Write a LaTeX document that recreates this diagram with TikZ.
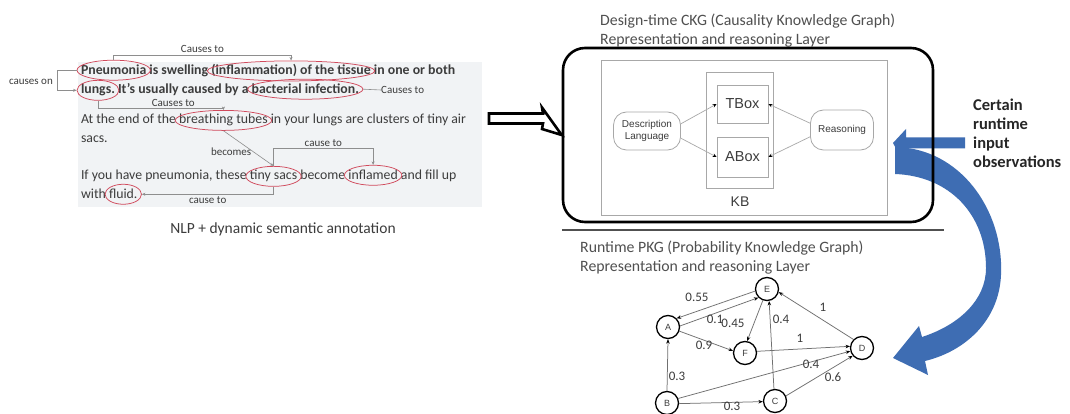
\documentclass[tikz,border=0pt]{standalone}
\usepackage{fontspec}
\setmainfont{Carlito}
\newfontfamily\arialf{Liberation Sans}
\usetikzlibrary{shapes.geometric,arrows.meta,calc}
\definecolor{txtc}{HTML}{3C3C3C}
\definecolor{ttlc}{HTML}{505050}
\definecolor{panelc}{HTML}{F1F3F5}
\definecolor{annred}{HTML}{D04A5C}
\definecolor{connc}{HTML}{8E8E8E}
\definecolor{bluec}{HTML}{3E6DB3}
\definecolor{kbgray}{HTML}{A8A8A8}
\definecolor{edgec}{HTML}{707070}
\newcommand\ptext{\fontsize{13.8}{16}\selectfont}
\newcommand\tsp{\ \mbox{}}
\newcommand\annotword[2]{\path let \p1=($(#1.east)-(#1.west)$) in node[ann,minimum width=\x1+8pt] (#2) at (#1.center) {};}
\begin{document}
\begin{tikzpicture}[x=1pt,y=-1pt,
  w/.style={inner sep=0pt,outer sep=0pt,anchor=base west,text=txtc,font=\ptext},
  wb/.style={w,font=\ptext\bfseries},
  ann/.style={ellipse,draw=annred,line width=0.75pt,inner sep=0pt,minimum height=20pt},
  clab/.style={inner sep=0pt,text=txtc,font=\fontsize{11}{12}\selectfont},
  cn/.style={draw=connc,line width=0.6pt},
  tip/.style={-{Stealth[length=3.5pt,width=3pt]}},
  ttl/.style={anchor=west,inner sep=0pt,text=ttlc,font=\fontsize{15.8}{18}\selectfont},
  kbbox/.style={draw=kbgray,line width=0.8pt,inner sep=0pt,text=txtc,font=\arialf\fontsize{14.5}{16}\selectfont},
  bubble/.style={draw=kbgray,line width=0.8pt,rounded corners=13pt,inner sep=0pt,align=center,text=txtc,font=\arialf\fontsize{10}{12}\selectfont},
  kbarr/.style={draw=kbgray,line width=0.7pt,-{Stealth[length=4pt,width=3.5pt,black]}},
  gnode/.style={circle,draw=black,line width=1.3pt,minimum size=23pt,inner sep=0pt,text=txtc,font=\arialf\fontsize{9}{10}\selectfont},
  gedge/.style={draw=edgec,line width=0.75pt,-{Stealth[length=4.5pt,width=3.5pt,black]}},
  glab/.style={inner sep=0pt,text=txtc,font=\fontsize{13}{14}\selectfont},
]
\useasboundingbox (0,0) rectangle (1070,414);
\fill[white] (0,0) rectangle (1070,414);
\fill[panelc] (78,62) rectangle (482,207);

% ---------- annotated text ----------
\node[wb] (l1a) at (81,75) {Pneumonia};
\node[wb] (l1b) at (l1a.base east) {\ is swelling\tsp};
\node[wb] (l1c) at (l1b.base east) {(inflammation) of the tissue};
\node[wb] (l1d) at (l1c.base east) {\ in one or both};
\node[wb] (l2a) at (81,94) {lungs.};
\node[wb] (l2b) at (l2a.base east) {\ It's usually caused by a\tsp};
\node[wb] (l2c) at (l2b.base east) {bacterial infection.};
\node[w] (l3a) at (81,124) {At the end of the\tsp};
\node[w] (l3b) at (l3a.base east) {breathing tubes};
\node[w] (l3c) at (l3b.base east) {\ in your lungs are clusters of tiny air};
\node[w] (l4a) at (81,143) {sacs.};
\node[w] (l5a) at (81,180) {If you have pneumonia, these\tsp};
\node[w] (l5b) at (l5a.base east) {tiny sacs};
\node[w] (l5c) at (l5b.base east) {\ become\tsp};
\node[w] (l5d) at (l5c.base east) {inflamed};
\node[w] (l5e) at (l5d.base east) {\ and fill up};
\node[w] (l6a) at (81,199) {with\tsp};
\node[w] (l6b) at (l6a.base east) {fluid.};

\annotword{l1a}{eP}
\annotword{l1c}{eI}
\annotword{l2a}{eL}
\annotword{l2c}{eBI}
\annotword{l3b}{eB}
\annotword{l5b}{eT}
\annotword{l5d}{eIn}
\annotword{l6b}{eF}

\coordinate (k1) at (0,55);
\draw[cn,tip] (eP.north) -- (eP.north |- k1) -- node[clab,above=2pt] (c1) {Causes to} (eI.north |- k1) -- (eI.north);
\node[clab,anchor=east] (c2) at (53,82) {causes on};
\coordinate (k2) at (57,0);
\draw[cn,tip] (eP.west) -- (eP.west -| k2) -- (eL.west -| k2) -- (eL.west);
\coordinate (k3) at (0,108);
\draw[cn,tip] (eL.south) -- (eL.south |- k3) -- node[clab,above=1.5pt,pos=0.6] (c3) {Causes to} (eB.north |- k3) -- (eB.north);
\node[clab,anchor=west] (c4) at (381,90) {Causes to};
\draw[cn] (eBI.east) -- (c4.west);
\draw[cn,tip] (eB.south) -- node[clab,pos=0.6,anchor=east,xshift=-2pt] (c5) {becomes} (eT.north);
\coordinate (k4) at (0,148);
\draw[cn,tip] (eT.north) -- (eT.north |- k4) -- node[clab,above=1.5pt] (c6) {cause to} (eIn.north |- k4) -- (eIn.north);
\draw[cn,tip] (eT.south) -- (eT.south |- eF.east) -- node[clab,below=1.5pt] (c7) {cause to} (eF.east);

\node[text=txtc,inner sep=0pt,font=\fontsize{15.5}{17}\selectfont] (nlp) at (283,229) {NLP + dynamic semantic annotation};

% ---------- blue arrows ----------
\fill[bluec] (965,137.5) -- (906,137.5) -- (906,129) -- (893,143) -- (896,148.5) -- (965,148.5) -- cycle;
\fill[bluec] (895,147) .. controls (960,148) and (1004,210) .. (1001,275) .. controls (999,320) and (966,351) .. (925,361) -- (928,375) -- (893,358) -- (919,326) -- (922,337) .. controls (959,325) and (986,300) .. (986,268) .. controls (986,215) and (950,176) .. (895,174) -- cycle;

% ---------- CKG ----------
\node[ttl] (t1) at (600,21) {Design-time CKG (Causality Knowledge Graph)};
\node[ttl] (t2) at (600,40) {Representation and reasoning Layer};
\node[draw=black,line width=2.6pt,rounded corners=22pt,minimum width=370pt,minimum height=174pt,inner sep=0pt] (ckg) at (748,135) {};
\node[kbbox,minimum width=286pt,minimum height=155pt] (kbo) at (744,137.5) {};
\node[kbbox,minimum width=67pt,minimum height=116pt] (kb) at (739.5,130) {};
\node[inner sep=0pt,text=txtc,font=\arialf\fontsize{14}{16}\selectfont] (kbl) at (740,202) {KB};
\node[kbbox,minimum width=51pt,minimum height=38pt] (tbox) at (742.5,104) {TBox};
\node[kbbox,minimum width=51pt,minimum height=40pt] (abox) at (742.5,157) {ABox};
\node[bubble,minimum width=67pt,minimum height=38pt] (dl) at (647,131) {Description\\Language};
\node[bubble,minimum width=63pt,minimum height=40pt] (rs) at (842,130) {Reasoning};
\draw[kbarr] (dl.12) -- (tbox.west);
\draw[kbarr] (dl.-12) -- (abox.west);
\draw[kbarr] (rs.168) -- (tbox.east);
\draw[kbarr] (rs.192) -- (abox.east);

% hollow arrow
\draw[line width=2.6pt,fill=white,line join=miter] (489,113.5) -- (543,113.5) -- (542,107.5) -- (ckg.west) -- (542,129) -- (543,123.5) -- (489,123.5) -- cycle;

\node[anchor=north west,align=left,inner sep=0pt,text=black!85,font=\fontsize{16.5}{19}\selectfont\bfseries] (cert) at (973,99) {Certain\\runtime\\input\\observations};

\draw[draw=ttlc,line width=1.2pt] (562,230) -- (944,230);

% ---------- PKG ----------
\node[ttl] (t3) at (580,248) {Runtime PKG (Probability Knowledge Graph)};
\node[ttl] (t4) at (580,267) {Representation and reasoning Layer};

\node[gnode] (E) at (767,289) {E};
\node[gnode] (A) at (668,327) {A};
\node[gnode] (F) at (745,353) {F};
\node[gnode] (D) at (862,348) {D};
\node[gnode] (B) at (667,403) {B};
\node[gnode] (C) at (775,401) {C};

\draw[gedge] (E.190) -- (A.45);
\draw[gedge] (A.5) -- (E.225);
\draw[gedge] (E.250) -- (F.80);
\draw[gedge] (A.-20) -- (F.170);
\draw[gedge] (F.8) -- (D.172);
\draw[gedge] (D.135) -- (E.-15);
\draw[gedge] (C.95) -- (E.-80);
\draw[gedge] (B.north) -- (A.south);
\draw[gedge] (B.22) -- (D.195);
\draw[gedge] (C.25) -- (D.220);
\draw[gedge] (B.-3) -- (C.183);

\node[glab] (w1) at (697,297) {0.55};
\node[glab] (w2) at (715,319) {0.1};
\node[glab] (w3) at (733,323) {0.45};
\node[glab] (w4) at (781,319) {0.4};
\node[glab] (w5) at (823,307) {1};
\node[glab] (w6) at (704,345) {0.9};
\node[glab] (w7) at (800,338) {1};
\node[glab] (w8) at (811,364) {0.4};
\node[glab] (w9) at (833,377) {0.6};
\node[glab] (w10) at (677,376) {0.3};
\node[glab] (w11) at (732,406) {0.3};
\end{tikzpicture}
\end{document}
